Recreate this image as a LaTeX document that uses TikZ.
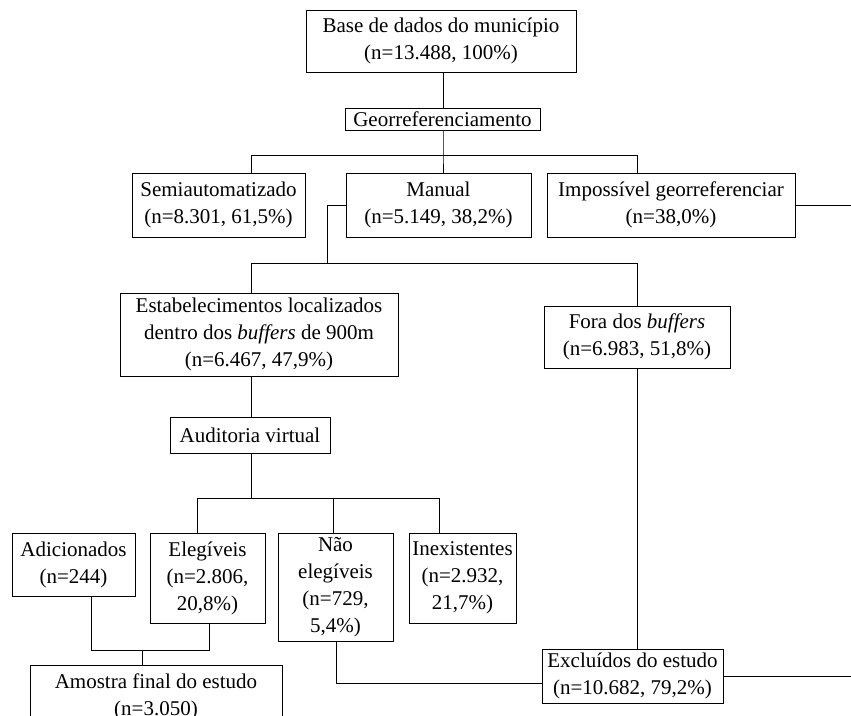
\documentclass[tikz,border=0pt]{standalone}
\usepackage{fontspec}
\setmainfont{Liberation Serif}
\begin{document}
\begin{tikzpicture}[x=1pt,y=-1pt,
  box/.style={draw, line width=1pt, align=center, inner sep=0pt,
    font=\fontsize{21}{27}\selectfont},
  conn/.style={line width=1pt}]
\useasboundingbox (0,0) rectangle (851,715);
% nodes
\node[box, minimum width=270, minimum height=62] (base) at (441,41) {Base de dados do município\\(n=13.488, 100\%)};
\node[box, minimum width=195, minimum height=22] (geo) at (442.5,119) {Georreferenciamento};
\node[box, minimum width=173, minimum height=64] (semi) at (218.5,205) {Semiautomatizado\\(n=8.301, 61,5\%)};
\node[box, minimum width=185, minimum height=64] (manual) at (438.5,205) {Manual\\(n=5.149, 38,2\%)};
\node[box, minimum width=248, minimum height=64] (imp) at (671,205) {Impossível georreferenciar\\(n=38,0\%)};
\node[box, minimum width=278, minimum height=83] (estab) at (259,334.5) {Estabelecimentos localizados\\dentro dos \textit{buffers} de 900m\\(n=6.467, 47,9\%)};
\node[box, minimum width=160, minimum height=36] (aud) at (250,435) {Auditoria virtual};
\node[box, minimum width=186, minimum height=62] (fora) at (637,337) {Fora dos \textit{buffers}\\(n=6.983, 51,8\%)};
\node[box, minimum width=123, minimum height=63] (adic) at (73.5,564.5) {Adicionados\\(n=244)};
\node[box, minimum width=115, minimum height=90] (eleg) at (207.5,578) {Elegíveis\\(n=2.806,\\20,8\%)};
\node[box, minimum width=115, minimum height=108] (nao) at (335.5,587) {Não\\elegíveis\\(n=729,\\5,4\%)};
\node[box, minimum width=107, minimum height=90] (inex) at (462.5,578) {Inexistentes\\(n=2.932,\\21,7\%)};
\node[box, minimum width=252, minimum height=64] (amostra) at (156,697) {Amostra final do estudo\\(n=3.050)};
\node[box, minimum width=181, minimum height=54] (exc) at (632.5,676) {Excluídos do estudo\\(n=10.682, 79,2\%)};
% coordinates
\coordinate (b1L) at (251,155);
\coordinate (b1M) at (443,155);
\coordinate (b1R) at (637,155);
\coordinate (m1) at (327,205);
\coordinate (b2L) at (251,263);
\coordinate (b2R) at (637,263);
\coordinate (b3M) at (251,498);
\coordinate (b3L) at (197,498);
\coordinate (b3N) at (333,498);
\coordinate (b3R) at (439,498);
\coordinate (j1) at (91,650);
\coordinate (j2) at (209,650);
\coordinate (j3) at (142,650);
\coordinate (n1) at (336,683);
\coordinate (edge) at (851,676);
% connectors
\draw[conn] (base.south -| b1M) -- (geo.north -| b1M);
\draw[conn] (geo.south -| b1M) -- (b1M) -- (b1M |- manual.north);
\draw[conn] (b1L |- semi.north) -- (b1L) -- (b1R) -- (b1R |- imp.north);
\draw[conn] (imp.east) -- (imp.east -| edge);
\draw[conn] (manual.west) -- (m1) -- (m1 |- b2L) -- (b2L);
\draw[conn] (b2L |- estab.north) -- (b2L) -- (b2R) -- (b2R |- fora.north);
\draw[conn] (b3M |- estab.south) -- (b3M |- aud.north);
\draw[conn] (b3M |- aud.south) -- (b3M);
\draw[conn] (b3L |- eleg.north) -- (b3L) -- (b3R) -- (b3R |- inex.north);
\draw[conn] (b3N) -- (b3N |- nao.north);
\draw[conn] (j1 |- adic.south) -- (j1) -- (j2) -- (j2 |- eleg.south);
\draw[conn] (j3) -- (j3 |- amostra.north);
\draw[conn] (n1 |- nao.south) -- (n1) -- (n1 -| exc.west);
\draw[conn] (fora.south) -- (fora.south |- exc.north);
\draw[conn] (exc.east) -- (exc.east -| edge);
\end{tikzpicture}
\end{document}
